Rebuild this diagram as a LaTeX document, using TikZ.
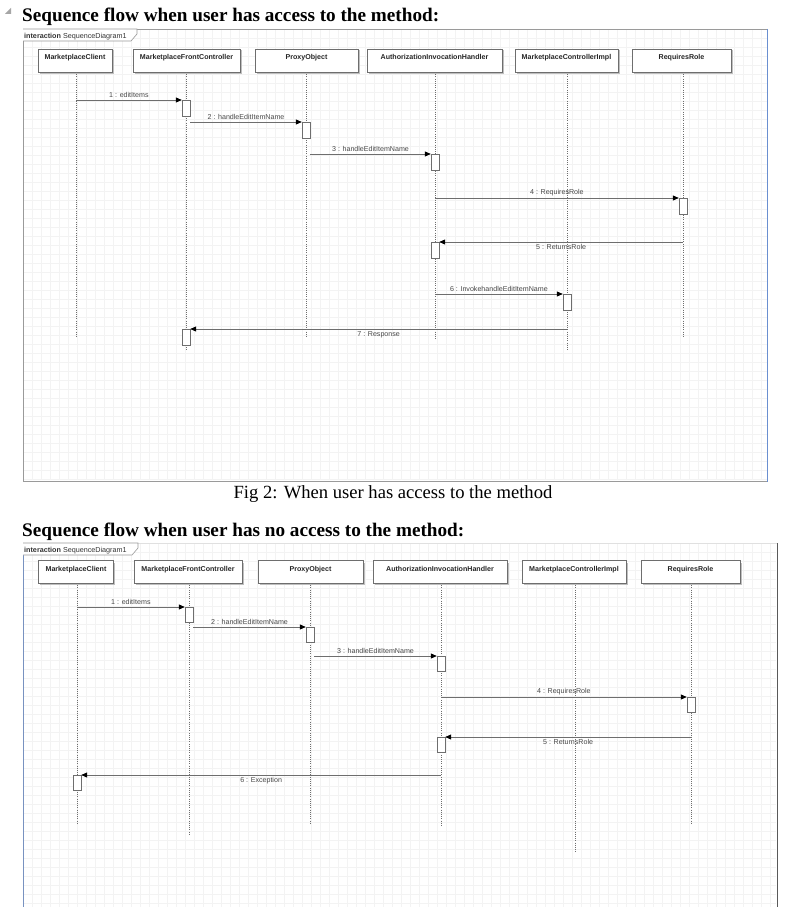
\documentclass[tikz,border=0pt]{standalone}
\usepackage{fontspec}
\setmainfont{Liberation Serif}
\setsansfont{Liberation Sans}
\usetikzlibrary{arrows.meta}
\definecolor{framegray}{HTML}{9A9A9A}
\definecolor{frameblue}{HTML}{6A8FD0}
\definecolor{gridgray}{HTML}{F3F3F3}
\definecolor{linegray}{HTML}{6E6E6E}
\definecolor{textgray}{HTML}{484848}
\tikzset{
  part/.style={draw=linegray, fill=white, minimum height=23pt, inner xsep=0pt, inner ysep=3pt,
    text height=7.5pt, text depth=9.5pt, font=\sffamily\bfseries\fontsize{7.1}{8}\selectfont, text=black!85},
  act/.style={draw=linegray, fill=white, minimum width=8pt, minimum height=16pt, inner sep=0pt, anchor=north},
  msg/.style={draw=linegray, line width=0.8pt, -{Triangle[length=6pt,width=5pt,color=black]}},
  lifeline/.style={draw=linegray, line width=0.6pt, dash pattern=on 1pt off 1.2pt},
  lbl/.style={font=\sffamily\fontsize{7.1}{8}\selectfont, text=textgray, inner sep=2pt},
  shadowbox/.style={fill=black!25, draw=none},
  title/.style={font=\bfseries\fontsize{19.2}{21}\selectfont, anchor=base west, inner sep=0pt},
  tablbl/.style={font=\sffamily\fontsize{7.2}{8}\selectfont, anchor=base west, inner sep=0pt, text=black!80},
}
\begin{document}
\begin{tikzpicture}[x=1pt,y=-1pt]
\useasboundingbox (0,0) rectangle (807,907);
\fill[white] (0,0) rectangle (807,907);
% corner marker
\fill[black!35] (11,8) -- (11,14) -- (5,14) -- cycle;
% titles
\node[title] (t1) at (22,22) {Sequence flow when user has access to the method:};
\node[title] (t2) at (22,536) {Sequence flow when user has no access to the method:};
\node[font=\fontsize{18.6}{20}\selectfont, inner sep=0pt] (cap) at (393,494) {Fig 2: When user has access to the method};

% ================= TOP FRAME =================
\foreach \gx in {32,41,...,767} \draw[gridgray, line width=0.5pt] (\gx,30) -- (\gx,480);
\foreach \gy in {38,47,...,480} \draw[gridgray, line width=0.5pt] (24,\gy) -- (767,\gy);
\draw[framegray, line width=0.8pt] (23,481) -- (23,29) -- (767,29);
\draw[framegray, line width=1pt] (23,481) -- (767,481);
\draw[frameblue, line width=1.6pt] (767.5,29) -- (767.5,481.5);
\draw[framegray, fill=white, line width=0.6pt] (23,29) -- (137,29) -- (137,34) -- (131,41) -- (23,41);
\node[tablbl] (tab1) at (24,38.5) {\textbf{interaction} SequenceDiagram1};

% participants top
\foreach \n/\x/\w/\t in {a1/75/74/MarketplaceClient, b1/186.5/107/MarketplaceFrontController,
  c1/306.5/103/ProxyObject, d1/434.5/135/AuthorizationInvocationHandler,
  e1/566.5/103/MarketplaceControllerImpl, f1/681.5/99/RequiresRole}{
  \fill[shadowbox] (\x-\w/2+1.5,50.5) rectangle (\x+\w/2+1.5,73.5);
  \node[part, minimum width=\w pt] (\n) at (\x,60.5) {\t};
}
% lifeline end points
\coordinate (a1e) at (76,338);
\coordinate (b1e) at (186,350);
\coordinate (c1e) at (306,337);
\coordinate (d1e) at (435,340);
\coordinate (e1e) at (567,350);
\coordinate (f1e) at (683,338);
\draw[lifeline] (76,72) -- (a1e);
\draw[lifeline] (186,72) -- (b1e);
\draw[lifeline] (306,72) -- (c1e);
\draw[lifeline] (435,72) -- (d1e);
\draw[lifeline] (567,72) -- (e1e);
\draw[lifeline] (683,72) -- (f1e);

% activations top
\node[act] (ta1) at (186,100) {};
\node[act] (ta2) at (306,122) {};
\node[act] (ta3) at (435,154) {};
\node[act] (ta4) at (683,198) {};
\node[act] (ta5) at (435,242) {};
\node[act] (ta6) at (567,294) {};
\node[act] (ta7) at (186,329) {};
% message start coordinates
\coordinate (ts1) at (76,100);
\coordinate (ts2) at (ta1.east |- 0,122);
\coordinate (ts3) at (ta2.east |- 0,154);
\coordinate (ts4) at (435,198);
\coordinate (ts5) at (683,242);
\coordinate (ts6) at (435,294);
\coordinate (ts7) at (567,329);
\draw[msg] (ts1) -- (ta1.north west) node[lbl, pos=0.5, above] {1 : editItems};
\draw[msg] (ts2) -- (ta2.north west) node[lbl, pos=0.5, above] {2 : handleEditItemName};
\draw[msg] (ts3) -- (ta3.north west) node[lbl, pos=0.5, above] {3 : handleEditItemName};
\draw[msg] (ts4) -- (ta4.north west) node[lbl, pos=0.5, above] {4 : RequiresRole};
\draw[msg] (ts5) -- (ta5.north east) node[lbl, pos=0.5, below] {5 : ReturnsRole};
\draw[msg] (ts6) -- (ta6.north west) node[lbl, pos=0.5, above] {6 : InvokehandleEditItemName};
\draw[msg] (ts7) -- (ta7.north east) node[lbl, pos=0.5, below] {7 : Response};

% ================= BOTTOM FRAME =================
\foreach \gx in {32,41,...,776} \draw[gridgray, line width=0.5pt] (\gx,544) -- (\gx,907);
\foreach \gy in {552,561,...,907} \draw[gridgray, line width=0.5pt] (24,\gy) -- (776,\gy);
\draw[black!12, line width=0.6pt] (23,543) -- (777,543);
\draw[frameblue!70!framegray, line width=0.8pt] (23,543) -- (23,907);
\draw[black!65, line width=1pt] (777,543) -- (777,907);
\draw[framegray, fill=white, line width=0.6pt] (23,543) -- (138,543) -- (138,548) -- (132,555) -- (23,555);
\node[tablbl] (tab2) at (24,552.5) {\textbf{interaction} SequenceDiagram1};

\foreach \n/\x/\w/\t in {a2/76/75/MarketplaceClient, b2/188/108/MarketplaceFrontController,
  c2/310.5/105/ProxyObject, d2/440/134/AuthorizationInvocationHandler,
  e2/574/104/MarketplaceControllerImpl, f2/690.5/99/RequiresRole}{
  \fill[shadowbox] (\x-\w/2+1.5,562.5) rectangle (\x+\w/2+1.5,584.5);
  \node[part, minimum width=\w pt, minimum height=22pt] (\n) at (\x,572) {\t};
}
\coordinate (a2e) at (77,823);
\coordinate (b2e) at (189,836);
\coordinate (c2e) at (310,823);
\coordinate (d2e) at (441,827);
\coordinate (e2e) at (575,853);
\coordinate (f2e) at (691,824);
\draw[lifeline] (77,583) -- (a2e);
\draw[lifeline] (189,583) -- (b2e);
\draw[lifeline] (310,583) -- (c2e);
\draw[lifeline] (441,583) -- (d2e);
\draw[lifeline] (575,583) -- (e2e);
\draw[lifeline] (691,583) -- (f2e);

\node[act, minimum height=15pt] (ba1) at (189,607) {};
\node[act, minimum height=15pt] (ba2) at (310,627) {};
\node[act, minimum height=15pt] (ba3) at (441,656) {};
\node[act, minimum height=15pt] (ba4) at (691,697) {};
\node[act, minimum height=15pt] (ba5) at (441,737) {};
\node[act, minimum height=15pt] (ba6) at (77,775) {};
\coordinate (bs1) at (77,607);
\coordinate (bs2) at (ba1.east |- 0,627);
\coordinate (bs3) at (ba2.east |- 0,656);
\coordinate (bs4) at (441,697);
\coordinate (bs5) at (691,737);
\coordinate (bs6) at (441,775);
\draw[msg] (bs1) -- (ba1.north west) node[lbl, pos=0.5, above] {1 : editItems};
\draw[msg] (bs2) -- (ba2.north west) node[lbl, pos=0.5, above] {2 : handleEditItemName};
\draw[msg] (bs3) -- (ba3.north west) node[lbl, pos=0.5, above] {3 : handleEditItemName};
\draw[msg] (bs4) -- (ba4.north west) node[lbl, pos=0.5, above] {4 : RequiresRole};
\draw[msg] (bs5) -- (ba5.north east) node[lbl, pos=0.5, below] {5 : ReturnsRole};
\draw[msg] (bs6) -- (ba6.north east) node[lbl, pos=0.5, below] {6 : Exception};
\end{tikzpicture}
\end{document}
